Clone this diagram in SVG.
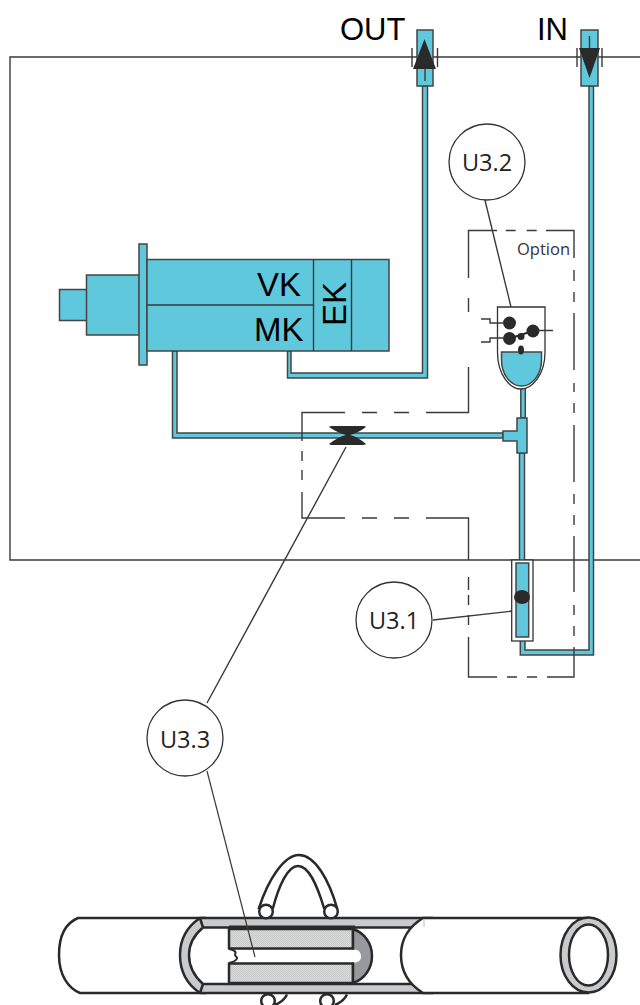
<svg xmlns="http://www.w3.org/2000/svg" width="640" height="1005" viewBox="0 0 640 1005">
<style>
.l{fill:none;stroke:#3a3a3a;stroke-width:1.4}
.b{fill:#5fc8dc;stroke:#444;stroke-width:1.5}
.k{fill:#2b2a2b}
.t{font-family:"Liberation Sans",Arial,sans-serif;fill:#000}
.u{font-family:"Open Sans",sans-serif;font-size:23.500px;fill:#222;text-anchor:middle}
.c{fill:#fff;stroke:#333;stroke-width:1.3}
.p{stroke:#2b2a2b;stroke-width:2.5}
.g{fill:#c8cacb}
.h{fill:url(#dots)}
</style>
<defs>
<pattern id="dots" width="2" height="2" patternUnits="userSpaceOnUse">
<rect width="2" height="2" fill="#dadbdb"/>
<rect width="1" height="1" fill="#c8c9c9"/>
<rect x="1" y="1" width="1" height="1" fill="#c8c9c9"/>
</pattern>
</defs>
<rect width="640" height="1005" fill="#fff"/>
<path id="frame" class="l" d="M640,57H10V560H640"/>
<g id="connectors">
<path class="b" d="M422.500,86H427.500V378H287.500V351H291V373H422.500Z"/>
<path class="b" d="M172.500,351H177V433H503V438H172.500Z"/>
<path class="b" d="M520.800,386H525.300V418H520.800Z"/>
<path class="b" d="M519.500,453H524.500V563H519.500Z"/>
<path class="b" d="M589,86H593.500V655H520.300V637H525V650H589Z"/>
<path class="l" d="M468.500,278V230.500H497M505.700,230.500H515.700M526.700,230.500H536.700M546,230.500H574V258M574,270V281M574,292V302M574,313V370M574,383V392M574,403V413M574,425V482M574,494V504M574,515V525M574,536V592M574,605V615M574,626V636M574,647V677H547M537,677H527M517,677H507M497,677H468.500V637M468.500,625V615M468.500,605V595M468.500,590V577M468.500,560V518H426M409,518H394M377,518H362M345,518H302V492M302,480V470M302,461V451M302,441V412.500H345M362,412.500H377M394,412.500H409M426,412.500H468.500V367M468.500,312V298"/>
<path class="l" d="M483,192L511,307M433,620L513,611M346,447L207,703"/>
</g>
<g id="out">
<rect class="b" x="417" y="30" width="16" height="56"/>
<path class="l" d="M412,48V67M437.500,48V67"/>
<path class="l" d="M425,65V81"/>
<path class="k" d="M424.500,39L436,69H413Z"/>
<text class="t" x="340" y="40" font-size="31">OUT</text>
</g>
<g id="in">
<rect class="b" x="581" y="30" width="17" height="56"/>
<path class="l" d="M577,48V67M602,48V67"/>
<path class="l" d="M589.500,36V52"/>
<path class="k" d="M579,48H600L589.500,78Z"/>
<text class="t" x="537" y="40" font-size="31">IN</text>
</g>
<g id="motor">
<rect class="b" x="59.500" y="289.500" width="28" height="31"/>
<rect class="b" x="86.500" y="275" width="53" height="60"/>
<rect class="b" x="139" y="244" width="8" height="121"/>
<rect class="b" x="147" y="259.500" width="242" height="91.500"/>
<path class="l" d="M147,305H313.500M313.500,259.500V351M351.500,259.500V351"/>
<text class="t" x="257" y="296" font-size="33">VK</text>
<text class="t" x="254" y="341" font-size="33">MK</text>
<text class="t" transform="translate(346,326) rotate(-90)" font-size="33">EK</text>
</g>
<g id="valve">
<path class="k" d="M329,427Q330,426 332,426H363Q365,426 366,427Q358,433 350,435Q358,437 366,444Q365,445 363,445H332Q330,445 329,444Q338,437 346,435Q338,433 329,427Z"/>
</g>
<g id="u32">
<circle class="c" cx="487" cy="162" r="38"/>
<text class="u" x="487" y="171">U3.2</text>
</g>
<g id="u31">
<circle class="c" cx="394" cy="620" r="38"/>
<text class="u" x="394" y="629">U3.1</text>
</g>
<g id="u33">
<circle class="c" cx="185" cy="738" r="38"/>
<text class="u" x="185" y="748">U3.3</text>
</g>
<g id="option">
<text x="517" y="254.500" font-family="'Open Sans',sans-serif" font-size="16.500" fill="#333">Option</text>
</g>
<g id="tank">
<path class="c" d="M497.500,307H545V352C545,375 532,389 521,389C510,389 497.500,375 497.500,352Z"/>
<path class="b" d="M501.500,352H541.500V360C541.500,375 532,386 521.500,386C511,386 501.500,375 501.500,360Z"/>
<circle class="k" cx="509.500" cy="323" r="6.500"/>
<circle class="k" cx="509.500" cy="338.500" r="6.500"/>
<circle class="k" cx="533" cy="331" r="6.500"/>
<circle class="k" cx="521" cy="336.500" r="3.500"/>
<ellipse class="k" cx="521" cy="350" rx="3" ry="4.500"/>
<path class="l" d="M481,319H490V323H504M481,342H490V338H504M538,330.500H553"/>
<path d="M509.500,338.500L533,331" stroke="#2b2a2b" stroke-width="2" fill="none"/>
<path class="b" d="M503,431H517V418H527V453H517V441H503Z"/>
</g>
<g id="sensor">
<rect class="c" x="511.700" y="560" width="21.300" height="81"/>
<path class="b" d="M516,563H528.700V637H516Z"/>
<ellipse class="k" cx="522" cy="597" rx="8" ry="7"/>
</g>
<g id="pipe">
<path class="p" fill="#fff" d="M78,918H205V993H80C68,988 59,975 59,955C59,935 66,923 78,918Z"/>
<path class="p g" d="M200,918H432V993H200C188,985 180,972 180,955C180,938 188,926 200,918Z"/>
<path class="p" fill="#fff" d="M203,927.500H425V984H203C194,976 189,966 189,955C189,945 194,935 203,927.500Z"/>
<path class="p" fill="none" d="M200,918L203,927.500M203,984L200,993"/>
<path class="p h" d="M229,929H353V983H229Z"/>
<path class="p" fill="#98999c" d="M353,929C365,933 372,944 372,956C372,968 365,979 353,983Z"/>
<path fill="#fff" d="M225,949.500H354C359,949.500 361,953 361,956.500C361,960 359,962.500 354,962.500H225Z"/>
<path class="p" fill="none" d="M229,948.500H354M229,963.500H354"/>
<path stroke="#2b2a2b" stroke-width="2" fill="#fff" d="M229,949C234,950 237,952 235,954C234,956 238,957 237,958.500C236,961 233,962 229,963"/>
<path d="M229,927.500H355" stroke="#2b2a2b" stroke-width="4" fill="none"/>
<path class="p" fill="#fff" d="M423,918H588V993H423C410,985 401,972 401,955C401,938 410,926 423,918Z"/>
<path d="M424,919V927" stroke="#bbb" stroke-width="1"/>
<ellipse class="p g" cx="588.500" cy="955" rx="28" ry="37.500"/>
<ellipse class="p" fill="#fff" cx="588.500" cy="955" rx="19.500" ry="30.500"/>
<path class="p" fill="#fff" d="M259,908C268,880 284,855 299,855C315,855 329,880 337,908L324,908C317,885 309,866 298,866C288,866 279,885 273,908Z"/>
<circle class="p" fill="#fff" cx="266" cy="911.500" r="6.800"/>
<circle class="p" fill="#fff" cx="331" cy="911.500" r="6.800"/>
<circle class="p" fill="#fff" cx="268" cy="1001" r="6.800"/>
<circle class="p" fill="#fff" cx="327" cy="1001" r="6.800"/>
<path class="p" fill="none" d="M275,1005Q284,1001 287,994.500M335,1005Q344,1001 347,994.500"/>
</g>
<path class="l" d="M207,771L255,957" style="stroke-width:1.200"/>
</svg>
